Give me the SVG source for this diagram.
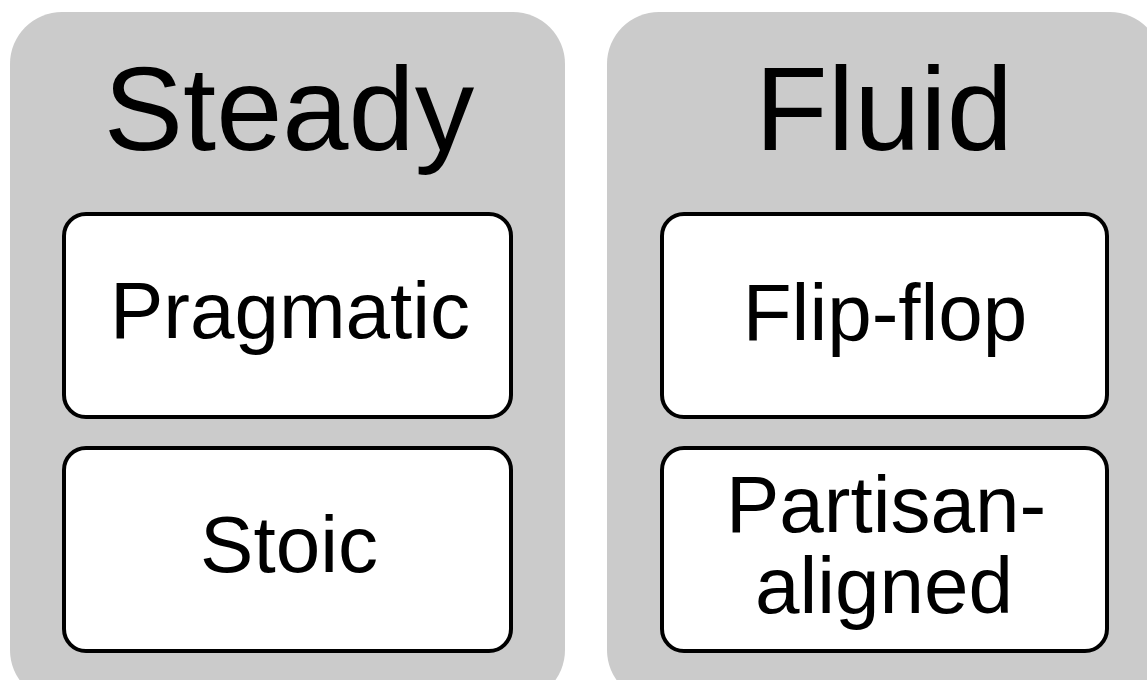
<svg xmlns="http://www.w3.org/2000/svg" width="1147" height="680" viewBox="0 0 1147 680">
<style>
.panel{fill:#cbcbcb;stroke:none}
.box{fill:#ffffff;stroke:#000;stroke-width:4}
.title{font-family:"Liberation Sans",Arial,sans-serif;font-size:119px;fill:#000;text-anchor:middle}
.lbl{font-family:"Liberation Sans",Arial,sans-serif;font-size:80px;fill:#000;text-anchor:middle}
</style>
<rect width="1147" height="680" fill="#ffffff"/>
<g id="steady">
<rect class="panel" x="10" y="12" width="555" height="690" rx="52" ry="52"/>
<text class="title" x="289" y="150">Steady</text>
</g>
<g id="fluid">
<rect class="panel" x="607" y="12" width="555" height="690" rx="52" ry="52"/>
<text class="title" x="884" y="150">Fluid</text>
</g>
<g id="pragmatic">
<rect class="box" x="64" y="214" width="447" height="203" rx="22" ry="22"/>
<text class="lbl" x="290" y="338">Pragmatic</text>
</g>
<g id="stoic">
<rect class="box" x="64" y="448" width="447" height="203" rx="22" ry="22"/>
<text class="lbl" x="289" y="572">Stoic</text>
</g>
<g id="flipflop">
<rect class="box" x="662" y="214" width="445" height="203" rx="22" ry="22"/>
<text class="lbl" x="885" y="340">Flip-flop</text>
</g>
<g id="partisan">
<rect class="box" x="662" y="448" width="445" height="203" rx="22" ry="22"/>
<text class="lbl" x="886" y="532">Partisan-</text>
<text class="lbl" x="884" y="613">aligned</text>
</g>
<g id="connectors"/>
</svg>
